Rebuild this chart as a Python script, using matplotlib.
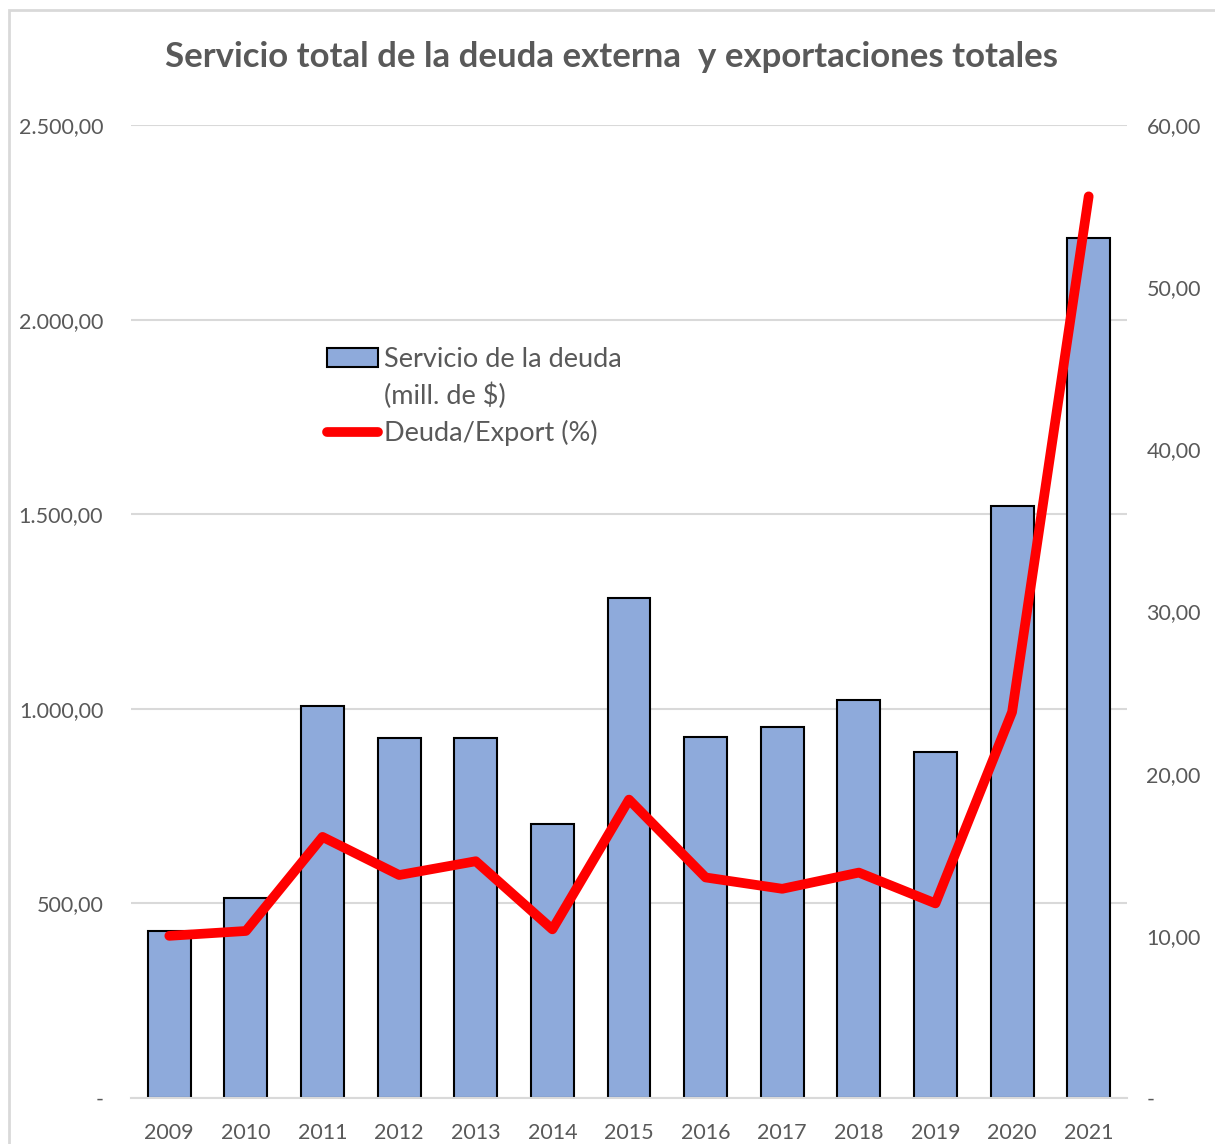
import matplotlib.pyplot as plt
import numpy as np
from matplotlib.ticker import FuncFormatter
from matplotlib.patches import Rectangle
from matplotlib.lines import Line2D

plt.rcParams['font.family'] = ['Lato', 'DejaVu Sans']

# datos
anios = ['2009', '2010', '2011', '2012', '2013', '2014', '2015',
         '2016', '2017', '2018', '2019', '2020', '2021']
servicio = [429, 514, 1007, 925, 924, 704, 1285, 928, 953, 1023, 889, 1521, 2210]
deuda_export = [10.0, 10.3, 16.1, 13.75, 14.6, 10.4, 18.4, 13.6, 12.9, 13.9, 12.0, 23.8, 55.6]

gris = '#595959'


def fmt_es(v, pos):
    if abs(v) < 1e-9:
        return '-'
    s = f'{v:,.2f}'
    return s.replace(',', 'X').replace('.', ',').replace('X', '.')


fig = plt.figure(figsize=(12.15, 11.44), dpi=100)
fig.patches.append(Rectangle((9 / 1215, -0.05), 1.1, 1 - 10 / 1144 + 0.05,
                             transform=fig.transFigure, fill=False,
                             edgecolor='#d9d9d9', linewidth=2))

ax = fig.add_axes([131 / 1215, 1 - 1098 / 1144, 996 / 1215, 973 / 1144])
x = np.arange(len(anios))
barras = ax.bar(x, servicio, width=0.56, color='#8eaadb', edgecolor='black',
                linewidth=1.5, zorder=2)
ax.set_xlim(-0.5, len(anios) - 0.5)
ax.set_ylim(0, 2500)
ax.set_yticks(np.arange(0, 2501, 500))
ax.yaxis.set_major_formatter(FuncFormatter(fmt_es))
ax.set_xticks(x)
ax.set_xticklabels(anios)
ax.grid(axis='y', color='#d9d9d9', linewidth=1.5, zorder=0)
ax.set_axisbelow(True)
for s in ['top', 'right', 'left']:
    ax.spines[s].set_visible(False)
ax.spines['bottom'].set_color('#d9d9d9')
ax.spines['bottom'].set_linewidth(1.5)
ax.tick_params(axis='both', length=0, labelsize=15.5, labelcolor=gris)
ax.tick_params(axis='y', pad=20)
ax.tick_params(axis='x', pad=18)

ax2 = ax.twinx()
linea, = ax2.plot(x, deuda_export, color='red', linewidth=7,
                  solid_capstyle='round', solid_joinstyle='round', zorder=3)
ax2.set_ylim(0, 60)
ax2.set_yticks(np.arange(0, 61, 10))
ax2.yaxis.set_major_formatter(FuncFormatter(fmt_es))
for s in ['top', 'right', 'left', 'bottom']:
    ax2.spines[s].set_visible(False)
ax2.tick_params(axis='y', length=0, labelsize=15.5, labelcolor=gris, pad=14)

vacio = Line2D([], [], linestyle='none')
leg = ax2.legend([barras, vacio, linea],
                 ['Servicio de la deuda', '(mill. de $)', 'Deuda/Export (%)'],
                 loc='upper left', bbox_to_anchor=(0.172, 0.797), frameon=False,
                 fontsize=19.5, labelcolor=gris, handlelength=1.9, handletextpad=0.2,
                 labelspacing=0.4)

fig.text(0.503, 1 - 57 / 1144, 'Servicio total de la deuda externa  y exportaciones totales',
         ha='center', va='center', fontsize=25, fontweight='bold', color=gris)

plt.savefig('out.png')
